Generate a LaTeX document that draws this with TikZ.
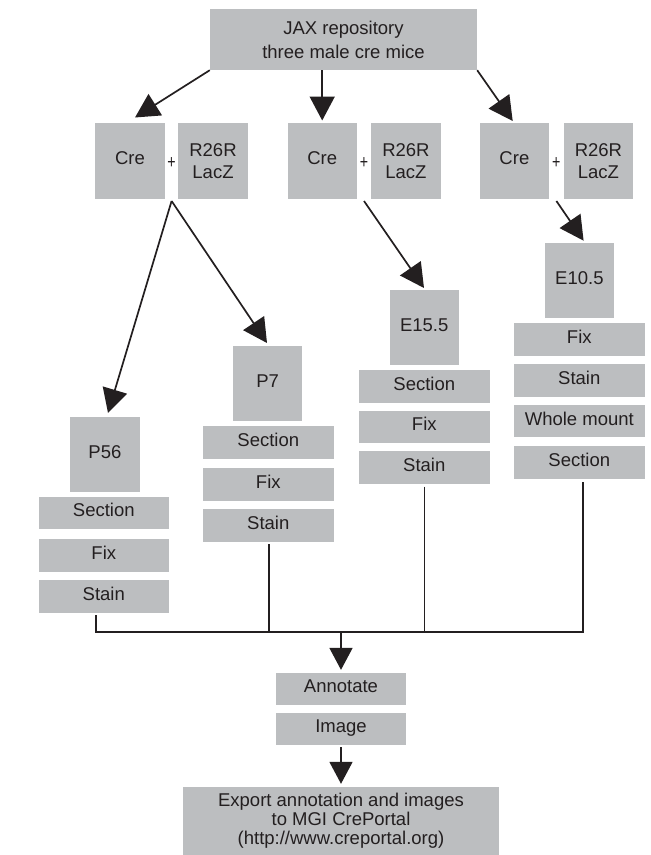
\documentclass[tikz,border=0pt]{standalone}
\usepackage{graphicx}
\usepackage{fontspec}
\setmainfont{Liberation Sans}
\usetikzlibrary{arrows.meta}
\definecolor{boxgray}{RGB}{188,190,192}
\definecolor{ink}{RGB}{35,31,32}
\begin{document}
\begin{tikzpicture}[x=1pt,y=-1pt,
  box/.style={fill=boxgray, draw=none, inner sep=0pt, text=ink,
    font=\fontsize{18.5}{22}\selectfont, align=center},
  one/.style={text height=0.78em, text depth=0pt},
  mainbox/.style={box, one, minimum width=69.3pt, minimum height=75pt},
  subbox/.style={box, one, minimum width=130.6pt, minimum height=32.5pt},
  plus/.style={text=ink, inner sep=0pt, font=\fontsize{19}{22}\selectfont},
  conn/.style={draw=ink, line width=1.7pt},
  arr/.style={conn, -{Triangle[length=24pt,width=25pt]}},
  arrs/.style={conn, -{Triangle[length=22pt,width=23pt]}},
]
\useasboundingbox (0,0) rectangle (651,855);

% top
\node[box, minimum width=267pt, minimum height=61pt,
  font=\fontsize{18.5}{24}\selectfont] (jax) at (343.5,39.5)
  {JAX repository\\three male cre mice};

% crosses
\node[box, one, minimum width=69.3pt, minimum height=76pt] (cre1) at (130,161) {Cre};
\node[box, minimum width=69.3pt, minimum height=76pt, font=\fontsize{18.5}{21.7}\selectfont] (r1) at (213,161) {R26R\\LacZ};
\node[plus] (p1) at (171.6,162.7) {\scalebox{0.75}[1]{+}};
\node[box, one, minimum width=69.3pt, minimum height=76pt] (cre2) at (322.2,161) {Cre};
\node[box, minimum width=69.3pt, minimum height=76pt, font=\fontsize{18.5}{21.7}\selectfont] (r2) at (405.9,161) {R26R\\LacZ};
\node[plus] (p2) at (364,162.7) {\scalebox{0.75}[1]{+}};
\node[box, one, minimum width=69.3pt, minimum height=76pt] (cre3) at (514.4,161) {Cre};
\node[box, minimum width=69.3pt, minimum height=76pt, font=\fontsize{18.5}{21.7}\selectfont] (r3) at (598.4,161) {R26R\\LacZ};
\node[plus] (p3) at (556.4,162.7) {\scalebox{0.75}[1]{+}};

% P56 column
\node[mainbox] (p56) at (104.9,454.2) {P56};
\node[subbox] (p56a) at (103.8,513) {Section};
\node[subbox] (p56b) at (103.8,555.3) {Fix};
\node[subbox] (p56c) at (103.8,596.3) {Stain};

% P7 column
\node[mainbox] (p7) at (267.6,383.2) {P7};
\node[subbox] (p7a) at (268.3,442.3) {Section};
\node[subbox] (p7b) at (268.3,484.3) {Fix};
\node[subbox] (p7c) at (268.3,525.3) {Stain};

% E15.5 column
\node[mainbox] (e15) at (424.2,327.5) {E15.5};
\node[subbox] (e15a) at (424.3,386.7) {Section};
\node[subbox] (e15b) at (424.3,427) {Fix};
\node[subbox] (e15c) at (424.3,467.5) {Stain};

% E10.5 column
\node[mainbox] (e10) at (579.4,280.5) {E10.5};
\node[subbox] (e10a) at (579.3,339.5) {Fix};
\node[subbox] (e10b) at (579.3,380.3) {Stain};
\node[subbox] (e10c) at (579.3,421.2) {Whole mount};
\node[subbox] (e10d) at (579.3,462.3) {Section};

% bottom
\node[box, one, minimum width=130pt, minimum height=32.3pt] (annot) at (341,688.9) {Annotate};
\node[box, one, minimum width=130pt, minimum height=32.3pt] (image) at (341,728.9) {Image};
\node[box, minimum width=316pt, minimum height=68.3pt,
  font=\fontsize{18.5}{19.3}\selectfont] (export) at (341,820.85)
  {Export annotation and images\\to MGI CrePortal\\(http://www.creportal.org)};

% arrows from top
\coordinate (t1) at (135,117.5);
\coordinate (t3) at (512.7,121);
\draw[arr] (jax.south west) -- (t1);
\draw[arr, shorten >=2.3pt] (cre2 |- jax.south) -- (cre2.north);
\draw[arr] (jax.south east) -- (t3);

% arrows from crosses
\coordinate (o1) at (171.6,201);
\coordinate (o2) at (364,201);
\coordinate (o3) at (556.4,201);
\coordinate (tp56) at (108,413);
\coordinate (tp7) at (267,343);
\coordinate (te15) at (424,288);
\coordinate (te10) at (583.6,240.7);
\draw[arr] (o1) -- (tp56);
\draw[arr] (o1) -- (tp7);
\draw[arr] (o2) -- (te15);
\draw[arr] (o3) -- (te10);

% collecting bus
\coordinate (b1) at (96.2,632);
\coordinate (b2) at (269,632);
\coordinate (b3) at (424.4,632);
\coordinate (b4) at (582.7,632);
\coordinate (bc) at (341,632);
\draw[conn, shorten <=2.5pt, shorten >=3pt] (b1 |- p56c.south) -- (b1) -- (b4) -- (b4 |- e10d.south);
\draw[conn, shorten <=2.5pt] (b2 |- p7c.south) -- (b2);
\draw[conn, shorten <=2.7pt] (b3 |- e15c.south) -- (b3);
\draw[arrs, shorten >=2.7pt] (bc) -- (annot.north);
\draw[arrs, shorten <=2pt, shorten >=2.7pt] (image.south) -- (export.north);
\end{tikzpicture}
\end{document}
